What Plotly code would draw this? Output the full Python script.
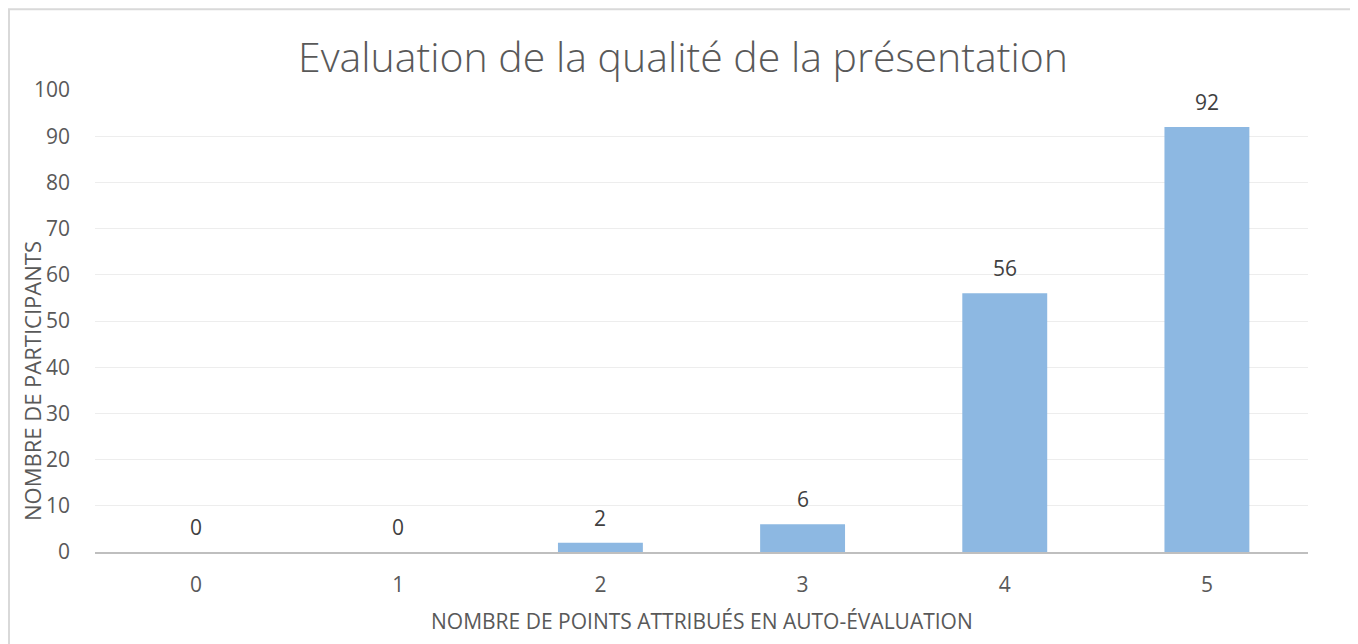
import plotly.graph_objects as go

# points attribués en auto-évaluation / nombre de participants
points = ['0', '1', '2', '3', '4', '5']
participants = [0, 0, 2, 6, 56, 92]

titre = 'Evaluation de la qualité de la présentation'
titre_x = 'NOMBRE DE POINTS ATTRIBUÉS EN AUTO-ÉVALUATION'
titre_y = 'NOMBRE DE PARTICIPANTS'

police = 'Open Sans'
gris = '#595959'

fig = go.Figure()
fig.add_trace(go.Bar(x=points, y=participants, width=0.42,
                     marker=dict(color='#8DB8E2', line=dict(width=0)),
                     hoverinfo='x+y'))

# étiquettes de données au-dessus des barres
for p, n in zip(points, participants):
    fig.add_annotation(x=p, y=n, text=str(n), showarrow=False,
                       yanchor='middle', yshift=25,
                       font=dict(family=police, size=21, color='#404040'))

# titres des axes
fig.add_annotation(x=0.5, y=-0.149, xref='paper', yref='paper', text=titre_x,
                   showarrow=False, yanchor='middle',
                   font=dict(family=police, size=21, color=gris))
fig.add_annotation(x=-0.052, y=0.37, xref='paper', yref='paper', text=titre_y,
                   showarrow=False, textangle=-90, xanchor='center',
                   yanchor='middle',
                   font=dict(family=police, size=22, color=gris))

# cadre du graphique
fig.add_shape(type='rect', xref='paper', yref='paper',
              x0=-0.0709, x1=1.0371, y0=-0.3, y1=1.175,
              line=dict(color='#D9D9D9', width=2), layer='below')

fig.update_layout(
    width=1350, height=636,
    margin=dict(l=87, r=50, t=82, b=92),
    paper_bgcolor='white', plot_bgcolor='white',
    title=dict(text=titre, x=0.5, xanchor='center', y=1 - 50 / 636,
               yanchor='middle', yref='container',
               font=dict(family=police, size=41, color=gris, weight=300)),
    showlegend=False,
)
fig.update_xaxes(showgrid=False, showline=True, linecolor='#BFBFBF',
                 linewidth=2, ticks='', ticklabelstandoff=13,
                 tickfont=dict(family=police, size=21, color=gris))
fig.update_yaxes(range=[0, 100], dtick=10, showgrid=True, gridcolor='#EDEDED',
                 gridwidth=1, zeroline=False, ticks='', ticklabelstandoff=24,
                 tickfont=dict(family=police, size=21, color=gris))

fig.write_html('out.html')
